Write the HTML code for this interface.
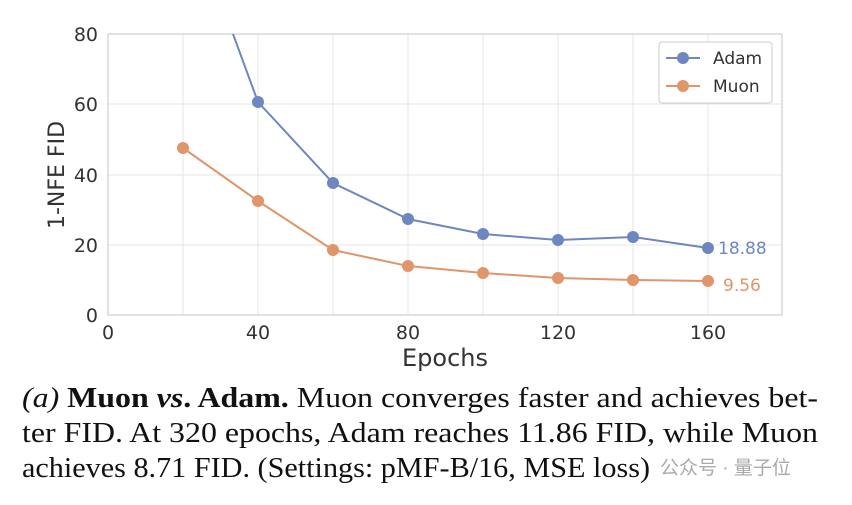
<!DOCTYPE html>
<html><head><meta charset="utf-8"><style>html,body{margin:0;padding:0;background:#fff}</style></head>
<body>
<svg width="852" height="500" viewBox="0 0 852 500" xmlns="http://www.w3.org/2000/svg">
<defs><clipPath id="c"><rect x="108" y="34" width="674" height="281"/></clipPath></defs>
<g stroke="#e6e6e6" stroke-width="1">
<line x1="258" y1="34" x2="258" y2="315"/><line x1="408" y1="34" x2="408" y2="315"/>
<line x1="558" y1="34" x2="558" y2="315"/><line x1="708" y1="34" x2="708" y2="315"/>
<line x1="183" y1="34" x2="183" y2="315"/><line x1="333" y1="34" x2="333" y2="315"/>
<line x1="483" y1="34" x2="483" y2="315"/><line x1="633" y1="34" x2="633" y2="315"/>
<line x1="108" y1="104" x2="782" y2="104"/><line x1="108" y1="175" x2="782" y2="175"/>
<line x1="108" y1="245" x2="782" y2="245"/>
</g>
<rect x="108" y="34" width="674" height="281" fill="none" stroke="#cfcfcf" stroke-width="1.2"/>
<g clip-path="url(#c)">
<polyline fill="none" stroke="#6f87c0" stroke-width="2" points="183,-102 258,102 333,183 408,219 483,234 558,240 633,237 708,248"/>
<polyline fill="none" stroke="#e0956a" stroke-width="2" points="183,148 258,201 333,250 408,266 483,273 558,278 633,280 708,281"/>
</g>
<g fill="#6f87c0"><circle cx="258" cy="102" r="6"/><circle cx="333" cy="183" r="6"/><circle cx="408" cy="219" r="6"/><circle cx="483" cy="234" r="6"/><circle cx="558" cy="240" r="6"/><circle cx="633" cy="237" r="6"/><circle cx="708" cy="248" r="6"/></g>
<g fill="#e0956a"><circle cx="183" cy="148" r="6"/><circle cx="258" cy="201" r="6"/><circle cx="333" cy="250" r="6"/><circle cx="408" cy="266" r="6"/><circle cx="483" cy="273" r="6"/><circle cx="558" cy="278" r="6"/><circle cx="633" cy="280" r="6"/><circle cx="708" cy="281" r="6"/></g>
<g font-family="DejaVu Sans, sans-serif" font-size="17">
<text x="718" y="254" fill="#6f87c0">18.88</text>
<text x="723" y="291" fill="#e0956a">9.56</text>
</g>
<g font-family="DejaVu Sans, sans-serif" font-size="19" fill="#333" text-anchor="middle">
<text x="108" y="339">0</text><text x="258" y="339">40</text><text x="408" y="339">80</text><text x="558" y="339">120</text><text x="708" y="339">160</text>
</g>
<g font-family="DejaVu Sans, sans-serif" font-size="19" fill="#333" text-anchor="end">
<text x="98" y="41">80</text><text x="98" y="111">60</text><text x="98" y="182">40</text><text x="98" y="252">20</text><text x="98" y="322">0</text>
</g>
<text x="445" y="366" font-family="DejaVu Sans, sans-serif" font-size="24" fill="#333" text-anchor="middle">Epochs</text>
<text transform="translate(64,175) rotate(-90)" font-family="DejaVu Sans, sans-serif" font-size="22" fill="#333" text-anchor="middle">1-NFE  FID</text>
<rect x="659" y="42" width="113" height="61" rx="3" fill="#fff" stroke="#cccccc"/>
<line x1="666" y1="58" x2="700" y2="58" stroke="#6f87c0" stroke-width="2"/><circle cx="683" cy="58" r="6" fill="#6f87c0"/>
<line x1="666" y1="86" x2="700" y2="86" stroke="#e0956a" stroke-width="2"/><circle cx="683" cy="86" r="6" fill="#e0956a"/>
<g font-family="DejaVu Sans, sans-serif" font-size="17" fill="#333">
<text x="713" y="64">Adam</text><text x="713" y="92">Muon</text>
</g>
<g font-family="Liberation Serif, serif" font-size="28" fill="#111">
<text x="22" y="407" textLength="796" lengthAdjust="spacingAndGlyphs"><tspan font-style="italic">(a)</tspan> <tspan font-weight="bold">Muon <tspan font-style="italic">vs</tspan>. Adam.</tspan>  Muon converges faster and achieves bet-</text>
<text x="22" y="442" textLength="796" lengthAdjust="spacingAndGlyphs">ter FID. At 320 epochs, Adam reaches 11.86 FID, while Muon</text>
<text x="22" y="477" textLength="628" lengthAdjust="spacingAndGlyphs">achieves 8.71 FID. (Settings: pMF-B/16, MSE loss)</text>
</g>
<text x="660" y="474" font-family="Liberation Sans, Noto Sans CJK SC, sans-serif" font-size="19" fill="#aaa">公众号 · 量子位</text>
</svg>
</body></html>
